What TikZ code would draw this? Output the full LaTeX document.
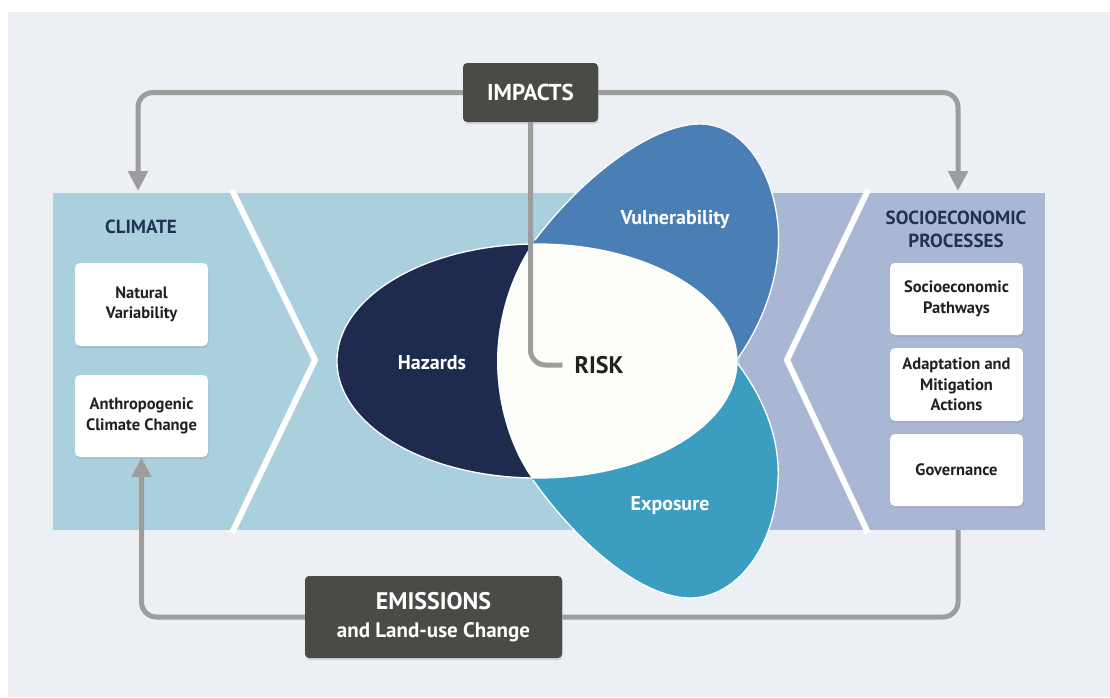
\documentclass[tikz,border=0pt]{standalone}
\usepackage{fontspec}
\setmainfont{PT Sans}
\usetikzlibrary{arrows.meta,shadows}
\definecolor{panelbg}{HTML}{ECEFF4}
\definecolor{bandblue}{HTML}{AAD0DE}
\definecolor{bandlav}{HTML}{A9B7D5}
\definecolor{hazcol}{HTML}{1E2B4E}
\definecolor{vulcol}{HTML}{4A7FB5}
\definecolor{expcol}{HTML}{3B9DC0}
\definecolor{riskcol}{HTML}{FDFDFA}
\definecolor{darkbox}{HTML}{4A4A46}
\definecolor{arrowgray}{HTML}{9D9D9D}
\definecolor{navytext}{HTML}{1F3452}
\definecolor{boxtext}{HTML}{231F20}
\tikzset{
  hazpath/.style={insert path={(537,361) ellipse [x radius=200, y radius=117]}},
  vulpath/.style={insert path={(738,358) .. controls (765,320) and (782,270) .. (778,225)
     .. controls (772,165) and (740,124) .. (700,124)
     .. controls (650,124) and (580,180) .. (535,240)
     .. controls (510,275) and (497,320) .. (497,362) -- cycle}},
  exppath/.style={insert path={(738,364) .. controls (765,400) and (780,440) .. (778,480)
     .. controls (775,550) and (735,598) .. (690,598)
     .. controls (640,598) and (575,540) .. (533,480)
     .. controls (508,445) and (497,400) .. (497,360) -- cycle}},
  whitebox/.style={fill=white, rounded corners=5pt, minimum width=133pt, align=center,
     text=boxtext, inner sep=2pt,
     font=\bfseries\fontsize{16.5}{20.5}\selectfont,
     drop shadow={opacity=0.22, shadow xshift=1pt, shadow yshift=-2pt}},
  darkboxst/.style={fill=darkbox, rounded corners=4pt, align=center, text=white, inner sep=2pt,
     drop shadow={opacity=0.22, shadow xshift=1pt, shadow yshift=-2pt}},
  gline/.style={draw=arrowgray, line width=5pt, rounded corners=15pt},
  garrow/.style={gline, -{Triangle[width=19pt,length=20pt]}},
  headlabel/.style={text=navytext, align=center, font=\bfseries\fontsize{19}{23}\selectfont},
  petallabel/.style={text=white, font=\bfseries\fontsize{20}{24}\selectfont},
  chevron/.style={draw=white, line width=6pt, miter limit=10},
  petaledge/.style={draw=white, line width=1.3pt}
}
\begin{document}
\begin{tikzpicture}[x=1pt,y=-1pt]
\useasboundingbox (0,0) rectangle (1110,697);
\fill[white] (0,0) rectangle (1110,697);
\fill[panelbg] (8,12) rectangle (1110,697);
% bands
\fill[bandblue] (53,193) rectangle (740,530);
\fill[bandlav] (740,193) rectangle (1045,530);
\draw[chevron] (232,190) -- (315,360) -- (232,533);
\draw[chevron] (868,190) -- (787,360) -- (868,533);
% coordinates for connector ends
\coordinate (climtop) at (138,191);
\coordinate (sociotop) at (958,191);
\coordinate (sociobot) at (958,530);
% boxes
\node[darkboxst, minimum width=135pt, minimum height=59pt, font=\bfseries\fontsize{23}{27}\selectfont] (imp) at (530.5,92.5) {IMPACTS};
\node[darkboxst, minimum width=257pt, minimum height=82pt, font=\bfseries\fontsize{24}{29}\selectfont] (emis) at (433.5,617) {EMISSIONS\\[-1pt]{\fontsize{21}{25}\selectfont and Land-use Change}};
\node[whitebox, minimum height=83pt] (natvar) at (141.5,304.5) {Natural\\Variability};
\node[whitebox, minimum height=82pt] (anthro) at (141.5,416) {Anthropogenic\\Climate Change};
\node[whitebox, minimum height=72pt] (sepath) at (956.5,299) {Socioeconomic\\Pathways};
\node[whitebox, minimum height=73pt] (adapt) at (956.5,384.5) {Adaptation and\\Mitigation\\Actions};
\node[whitebox, minimum height=72pt] (gov) at (956.5,470) {Governance};
\node[headlabel] (climate) at (141,227) {CLIMATE};
\node[headlabel] (socio) at (956,229) {SOCIOECONOMIC\\PROCESSES};
% connectors
\draw[garrow] (imp.west) -| (climtop);
\draw[garrow] (imp.east) -| (sociotop);
\draw[garrow] (emis.west) -| (anthro.south);
\draw[gline] (emis.east) -| (sociobot);
% petals
\fill[hazcol, hazpath];
\fill[vulcol, vulpath];
\fill[expcol, exppath];
\begin{scope}
  \clip[hazpath];
  \fill[riskcol, vulpath];
  \fill[riskcol, exppath];
  \fill[riskcol] (505,340) rectangle (745,382);
\end{scope}
\draw[petaledge, hazpath];
\draw[petaledge] (738,358) .. controls (765,320) and (782,270) .. (778,225)
     .. controls (772,165) and (740,124) .. (700,124)
     .. controls (650,124) and (580,180) .. (535,240);
\draw[petaledge] (738,364) .. controls (765,400) and (780,440) .. (778,480)
     .. controls (775,550) and (735,598) .. (690,598)
     .. controls (640,598) and (575,540) .. (533,480);
% labels
\node[petallabel] (haz) at (432,363) {Hazards};
\node[petallabel] (vul) at (675,219) {Vulnerability};
\node[petallabel] (exp) at (670,505) {Exposure};
\node[text=boxtext, font=\bfseries\fontsize{24}{28}\selectfont, inner sep=0pt] (risk) at (599,365) {RISK};
\coordinate (riskin) at ([xshift=-12pt]risk.west);
\draw[gline] (imp.south) |- (riskin);
\end{tikzpicture}
\end{document}
